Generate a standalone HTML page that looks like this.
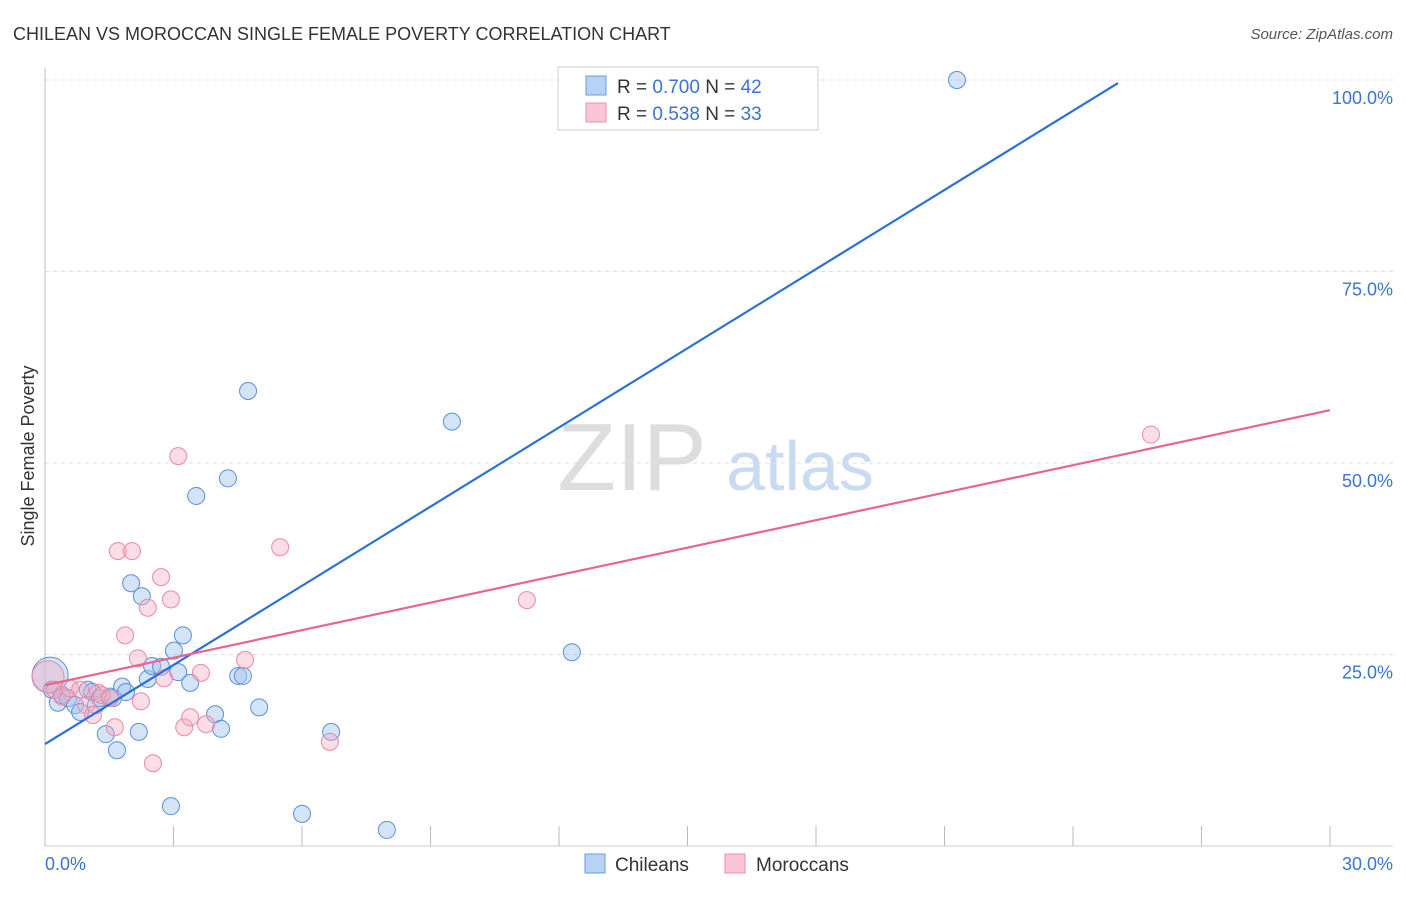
<!DOCTYPE html>
<html><head><meta charset="utf-8"><style>
body{margin:0;background:#fff;font-family:"Liberation Sans",sans-serif;}
svg text{font-family:"Liberation Sans",sans-serif;}
</style></head><body>
<svg id="c" width="1406" height="892">
<text x="13" y="40" font-size="18" fill="#333">CHILEAN VS MOROCCAN SINGLE FEMALE POVERTY CORRELATION CHART</text>
<text x="1393" y="39" font-size="15" fill="#555" font-style="italic" text-anchor="end">Source: ZipAtlas.com</text>
<text transform="translate(34,456) rotate(-90)" font-size="18" fill="#333" text-anchor="middle">Single Female Poverty</text>
<text x="632" y="490" font-size="96" fill="#ddd" font-family="Liberation Serif" text-anchor="middle">ZIP</text>
<text x="800" y="490" font-size="70" fill="#c9daf3" text-anchor="middle">atlas</text>
<g id="grid"></g><g id="marks"></g><g id="lines"></g>
<g>
<rect x="558" y="67" width="260" height="63" fill="#fff" stroke="#ccc"/>
<rect x="586" y="76" width="20" height="19" fill="#b8d2f5" stroke="#6a9ae0"/>
<rect x="586" y="103" width="20" height="19" fill="#f9c4d3" stroke="#ea8fab"/>
<text x="617" y="93" font-size="19" fill="#333">R = <tspan fill="#3a73d0">0.700</tspan>   N = <tspan fill="#3a73d0">42</tspan></text>
<text x="617" y="120" font-size="19" fill="#333">R =  <tspan fill="#3a73d0">0.538</tspan>   N = <tspan fill="#3a73d0">33</tspan></text>
</g>
<g>
<rect x="585" y="854" width="20" height="19" fill="#b8d2f5" stroke="#6a9ae0"/>
<text x="615" y="871" font-size="19" fill="#333">Chileans</text>
<rect x="725" y="854" width="20" height="19" fill="#f9c4d3" stroke="#ea8fab"/>
<text x="756" y="871" font-size="19" fill="#333">Moroccans</text>
</g>
</svg>
<script>
const xTicks=["0.0%","30.0%"];
const yTicks=[25,50,75,100];
const chileX=[0.12,0.16,0.30,0.40,0.54,0.70,0.82,1.00,1.10,1.19,1.28,1.42,1.52,1.59,1.68,1.80,1.89,2.01,2.19,2.26,2.40,2.50,2.71,3.01,2.94,3.11,3.22,3.39,3.53,3.97,4.11,4.27,4.51,4.62,4.74,5.00,6.00,6.68,7.98,9.50,12.30,21.29,14.24];
const chileY=[22.3,20.4,18.7,19.7,19.3,18.4,17.5,20.4,20.1,18.4,19.3,14.6,19.5,19.3,12.5,20.8,20.1,34.3,14.9,32.6,21.8,23.5,23.4,25.5,5.2,22.7,27.5,21.3,45.7,17.2,15.3,48.0,22.2,22.2,59.4,18.1,4.2,14.9,2.1,55.4,25.3,100,100];
const morX=[0.07,0.23,0.40,0.58,0.82,0.96,1.12,1.24,1.33,1.52,1.63,1.70,1.87,2.03,2.17,2.24,2.40,2.52,2.71,2.78,2.94,3.11,3.25,3.39,3.64,3.76,4.67,5.49,6.65,11.25,25.82];
const morY=[22.1,20.4,19.5,20.6,20.4,18.4,17.1,20.0,19.7,19.3,15.5,38.5,27.5,38.5,24.5,18.9,31.1,10.8,35.1,21.9,32.2,50.9,15.5,16.8,22.6,15.9,24.3,39.0,13.6,32.1,53.7];
const chileTrend=[[0,13.3],[25.05,99.6]];
const morTrend=[[0,21.0],[30,56.9]];
const NS="http://www.w3.org/2000/svg";
const X=v=>45+v*1285/30, Y=v=>846-v*7.66;
function mk(t,a,p){const e=document.createElementNS(NS,t);for(const k in a)e.setAttribute(k,a[k]);p.appendChild(e);return e;}
const g=document.getElementById('grid');
yTicks.forEach(v=>{
 const l=mk('line',{x1:45,x2:1393,y1:Y(v),y2:Y(v),stroke:'#ddd','stroke-dasharray':'4,4'},g);
 
 
 const t=mk('text',{x:1393,y:Y(v)+24,'font-size':18,fill:'#3a73d0','text-anchor':'end'},g);t.textContent=v.toFixed(1)+'%';
 
 
});
const ax=mk('line',{x1:45,x2:45,y1:68,y2:846,stroke:'#bbb'},g);


const bx=mk('line',{x1:45,x2:1393,y1:846,y2:846,stroke:'#ccc'},g);


for(let i=1;i<=10;i++){const tk=mk('line',{x1:X(i*3),x2:X(i*3),y1:826,y2:846,stroke:'#bbb'},g);
 
 }
[[0,'start',45],[1,'end',1393]].forEach(([i,a,x])=>{const t=mk('text',{x:x,y:870,'font-size':18,fill:'#3a73d0','text-anchor':a},g);t.textContent=xTicks[i];
 
 });
const m=document.getElementById('marks');
chileX.forEach((v,i)=>{const c=mk('circle',{cx:X(v),cy:Y(chileY[i]),r:i==0?18:8.5,fill:'rgba(160,195,240,0.45)',stroke:'#5a8fd8','stroke-width':1},m);
 
 });
morX.forEach((v,i)=>{const c=mk('circle',{cx:X(v),cy:Y(morY[i]),r:i==0?16:8.5,fill:'rgba(245,170,190,0.4)',stroke:'#e88aa5','stroke-width':1},m);
 
 });
const L=document.getElementById('lines');
const l1=mk('line',{x1:X(chileTrend[0][0]),y1:Y(chileTrend[0][1]),x2:X(chileTrend[1][0]),y2:Y(chileTrend[1][1]),stroke:'#2a6fd6','stroke-width':2.2},L);


const l2=mk('line',{x1:X(morTrend[0][0]),y1:Y(morTrend[0][1]),x2:X(morTrend[1][0]),y2:Y(morTrend[1][1]),stroke:'#e8668e','stroke-width':2.2},L);


</script>
</body></html>
